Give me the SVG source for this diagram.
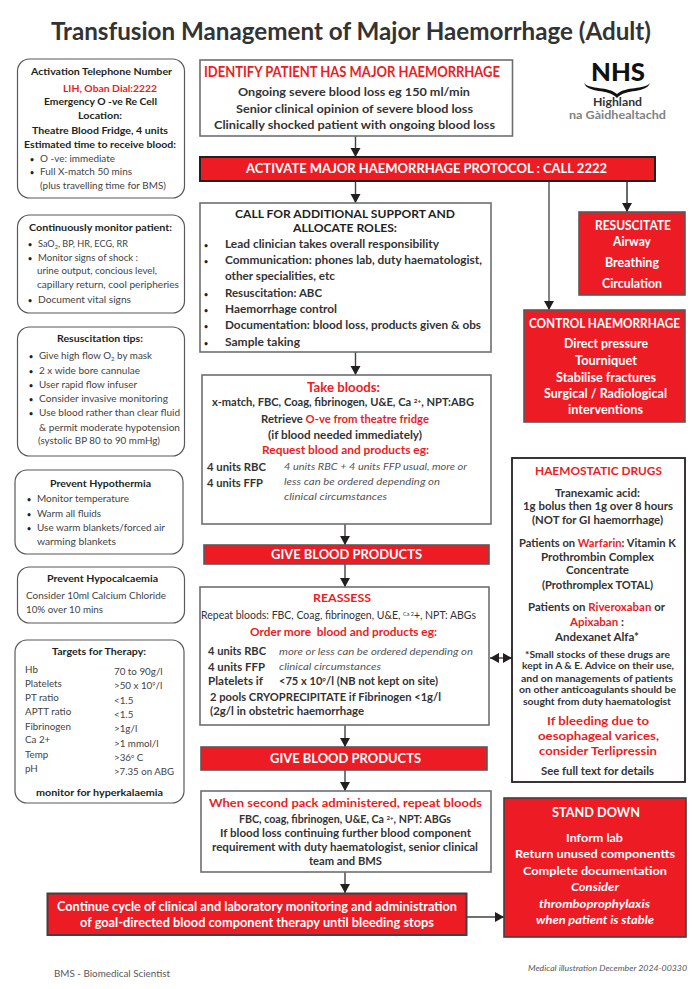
<svg xmlns="http://www.w3.org/2000/svg" width="698" height="989" viewBox="0 0 698 989">
<style>
text{font-family:Lato,"Open Sans","Liberation Sans",sans-serif;fill:#333}
.n{font-size:9.800px;font-weight:400;fill:#444}
.p{font-size:7px;font-weight:700;fill:#231f20}
.b{font-size:10px;font-weight:700;fill:#231f20}
.m{font-size:12.200px;font-weight:700;fill:#333}
.mb{font-size:12.200px;font-weight:700;fill:#231f20}
.i{font-size:10px;font-style:italic;fill:#555}
.w{font-size:11.500px;font-weight:700;fill:#fff}
.h{font-size:15px;font-weight:700}
.s{font-size:10.500px;font-weight:700;fill:#333}
.rr{fill:#fff;stroke:#58595b;stroke-width:1.2}
.bx{fill:#fff;stroke:#6d6e71;stroke-width:1.6}
.red{fill:#ed1c24;stroke:#58595b;stroke-width:1.6}
.redd{fill:#ed1c24;stroke:#231f20;stroke-width:2}
.c{fill:none;stroke:#414042;stroke-width:1.4}
</style>
<defs>
<marker id="a" markerUnits="userSpaceOnUse" markerWidth="11" markerHeight="11" refX="9" refY="5.5" orient="auto-start-reverse"><path d="M0 0.5L9 5.5L0 10.5Z" fill="#231f20"/></marker>
</defs>
<text x="51" y="40" textLength="600" lengthAdjust="spacingAndGlyphs" style="font-size:25px;font-weight:700;fill:#333">Transfusion Management of Major Haemorrhage (Adult)</text>

<g id="connectors">
<path class="c" d="M355.500 136V157" marker-end="url(#a)"/>
<path class="c" d="M355.500 181V203" marker-end="url(#a)"/>
<path class="c" d="M355.500 352V375" marker-end="url(#a)"/>
<path class="c" d="M345 524V545" marker-end="url(#a)"/>
<path class="c" d="M345 564V587" marker-end="url(#a)"/>
<path class="c" d="M345 725V747" marker-end="url(#a)"/>
<path class="c" d="M345 770V791" marker-end="url(#a)"/>
<path class="c" d="M345 872V893" marker-end="url(#a)"/>
<path d="M549 181V310" fill="none" stroke="#808285" stroke-width="2" marker-end="url(#a)"/>
<path d="M627 181V212" fill="none" stroke="#58595b" stroke-width="1.8" marker-end="url(#a)"/>
<path class="c" d="M490 658H512" marker-start="url(#a)" marker-end="url(#a)"/>
<path class="c" d="M467 917H504" marker-end="url(#a)"/>
</g>

<g id="activation">
<rect class="rr" x="17.500" y="59" width="167" height="139" rx="12"/>
<text class="b" x="31" y="75" textLength="141" lengthAdjust="spacingAndGlyphs">Activation Telephone Number</text>
<text class="b" x="63" y="91.700" textLength="94" lengthAdjust="spacingAndGlyphs" style="fill:#ed1c24">LIH, Oban Dial:2222</text>
<text class="b" x="44" y="105" textLength="113" lengthAdjust="spacingAndGlyphs">Emergency O -ve Re Cell</text>
<text class="b" x="78" y="119" textLength="44" lengthAdjust="spacingAndGlyphs">Location:</text>
<text class="b" x="32" y="134" textLength="136" lengthAdjust="spacingAndGlyphs">Theatre Blood Fridge, 4 units</text>
<text class="b" x="24" y="148" textLength="152" lengthAdjust="spacingAndGlyphs">Estimated time to receive blood:</text>
<text class="p" x="30" y="161.500">•</text><text class="n" x="40" y="162" textLength="75" lengthAdjust="spacingAndGlyphs">O -ve: immediate</text>
<text class="p" x="30" y="174.500">•</text><text class="n" x="40" y="175" textLength="92" lengthAdjust="spacingAndGlyphs">Full X-match 50 mins</text>
<text class="n" x="40" y="189" textLength="126" lengthAdjust="spacingAndGlyphs">(plus travelling time for BMS)</text>
</g>

<g id="monitor">
<rect class="rr" x="17.500" y="215" width="167" height="98" rx="12"/>
<text class="b" x="29" y="231" textLength="143" lengthAdjust="spacingAndGlyphs">Continuously monitor patient:</text>
<text class="p" x="28" y="246.500">•</text><text class="n" x="38" y="247" textLength="90" lengthAdjust="spacingAndGlyphs">SaO<tspan dy="1.500" font-size="6">2</tspan><tspan dy="-1.500">, BP, HR, ECG, RR</tspan></text>
<text class="p" x="28" y="260.500">•</text><text class="n" x="38" y="261" textLength="100" lengthAdjust="spacingAndGlyphs">Monitor signs of shock :</text>
<text class="n" x="37" y="274" textLength="120" lengthAdjust="spacingAndGlyphs">urine output, concious level,</text>
<text class="n" x="37" y="288" textLength="142" lengthAdjust="spacingAndGlyphs">capillary return, cool peripheries</text>
<text class="p" x="28" y="302.500">•</text><text class="n" x="38" y="303" textLength="93" lengthAdjust="spacingAndGlyphs">Document vital signs</text>
</g>

<g id="resus-tips">
<rect class="rr" x="17.500" y="327" width="167" height="129" rx="12"/>
<text class="b" x="57" y="342" textLength="86" lengthAdjust="spacingAndGlyphs">Resuscitation tips:</text>
<text class="p" x="29" y="358.500">•</text><text class="n" x="39" y="359" textLength="113" lengthAdjust="spacingAndGlyphs">Give high flow O<tspan dy="1.500" font-size="6">2</tspan><tspan dy="-1.500"> by mask</tspan></text>
<text class="p" x="29" y="373.500">•</text><text class="n" x="39" y="374" textLength="101" lengthAdjust="spacingAndGlyphs">2 x wide bore cannulae</text>
<text class="p" x="29" y="387.500">•</text><text class="n" x="39" y="388" textLength="98" lengthAdjust="spacingAndGlyphs">User rapid flow infuser</text>
<text class="p" x="29" y="401.500">•</text><text class="n" x="39" y="402" textLength="129" lengthAdjust="spacingAndGlyphs">Consider invasive monitoring</text>
<text class="p" x="29" y="415.500">•</text><text class="n" x="39" y="416" textLength="141" lengthAdjust="spacingAndGlyphs">Use blood rather than clear fluid</text>
<text class="n" x="39" y="431" textLength="141" lengthAdjust="spacingAndGlyphs">&amp; permit moderate hypotension</text>
<text class="n" x="38" y="444" textLength="122" lengthAdjust="spacingAndGlyphs">(systolic BP 80 to 90 mmHg)</text>
</g>

<g id="hypothermia">
<rect class="rr" x="15" y="470" width="168" height="84" rx="12"/>
<text class="b" x="50" y="487" textLength="101" lengthAdjust="spacingAndGlyphs">Prevent Hypothermia</text>
<text class="p" x="27" y="501.500">•</text><text class="n" x="37" y="502" textLength="92" lengthAdjust="spacingAndGlyphs">Monitor temperature</text>
<text class="p" x="27" y="516.500">•</text><text class="n" x="37" y="517" textLength="64" lengthAdjust="spacingAndGlyphs">Warm all fluids</text>
<text class="p" x="27" y="530.500">•</text><text class="n" x="37" y="531" textLength="128" lengthAdjust="spacingAndGlyphs">Use warm blankets/forced air</text>
<text class="n" x="37" y="545" textLength="79" lengthAdjust="spacingAndGlyphs">warming blankets</text>
</g>

<g id="hypocalcaemia">
<rect class="rr" x="17.500" y="567" width="167" height="56" rx="12"/>
<text class="b" x="47" y="582" textLength="111" lengthAdjust="spacingAndGlyphs">Prevent Hypocalcaemia</text>
<text class="n" x="26" y="599" textLength="140" lengthAdjust="spacingAndGlyphs">Consider 10ml Calcium Chloride</text>
<text class="n" x="26" y="613" textLength="77" lengthAdjust="spacingAndGlyphs">10% over 10 mins</text>
</g>

<g id="targets">
<rect class="rr" x="15" y="640" width="169" height="163" rx="12"/>
<text class="b" x="52" y="655" textLength="94" lengthAdjust="spacingAndGlyphs">Targets for Therapy:</text>
<text class="n" x="25" y="673">Hb</text><text class="n" x="25" y="687">Platelets</text><text class="n" x="25" y="701">PT ratio</text><text class="n" x="25" y="715">APTT ratio</text><text class="n" x="25" y="730">Fibrinogen</text><text class="n" x="25" y="743">Ca 2+</text><text class="n" x="25" y="758">Temp</text><text class="n" x="25" y="772">pH</text>
<text class="n" x="114" y="675">70 to 90g/l</text>
<text class="n" x="114" y="689">&gt;50 x 10<tspan dy="-3" font-size="5.500">9</tspan><tspan dy="3">/l</tspan></text>
<text class="n" x="114" y="704">&lt;1.5</text><text class="n" x="114" y="718">&lt;1.5</text><text class="n" x="114" y="732">&gt;1g/l</text><text class="n" x="114" y="747">&gt;1 mmol/l</text>
<text class="n" x="114" y="761">&gt;36<tspan dy="-3" font-size="5.500">o</tspan><tspan dy="3"> C</tspan></text>
<text class="n" x="114" y="775" textLength="60" lengthAdjust="spacingAndGlyphs">&gt;7.35 on ABG</text>
<text class="b" x="36" y="796" textLength="127" lengthAdjust="spacingAndGlyphs">monitor for hyperkalaemia</text>
</g>

<g id="identify">
<rect class="bx" x="200" y="60" width="312.500" height="76"/>
<text class="h" x="204" y="77" textLength="296" lengthAdjust="spacingAndGlyphs" style="fill:#ed1c24">IDENTIFY PATIENT HAS MAJOR HAEMORRHAGE</text>
<text class="m" x="238" y="96" textLength="232" lengthAdjust="spacingAndGlyphs">Ongoing severe blood loss eg 150 ml/min</text>
<text class="m" x="236" y="113" textLength="237" lengthAdjust="spacingAndGlyphs">Senior clinical opinion of severe blood loss</text>
<text class="m" x="214" y="129" textLength="281" lengthAdjust="spacingAndGlyphs">Clinically shocked patient with ongoing blood loss</text>
</g>

<g id="activate">
<rect class="redd" x="200" y="157" width="455" height="24"/>
<text class="w" x="246" y="173" textLength="361" lengthAdjust="spacingAndGlyphs" style="font-size:14px">ACTIVATE MAJOR HAEMORRHAGE PROTOCOL : CALL 2222</text>
</g>

<g id="roles">
<rect class="bx" x="200" y="203" width="291" height="149"/>
<text class="mb" x="235" y="218" textLength="220" lengthAdjust="spacingAndGlyphs">CALL FOR ADDITIONAL SUPPORT AND</text>
<text class="mb" x="293" y="232" textLength="104" lengthAdjust="spacingAndGlyphs">ALLOCATE ROLES:</text>
<g><text class="p" x="204" y="247.500">•</text><text class="p" x="204" y="263.500">•</text><text class="p" x="204" y="296.500">•</text><text class="p" x="204" y="312.500">•</text><text class="p" x="204" y="328.500">•</text><text class="p" x="204" y="345.500">•</text></g>
<text class="s" x="225" y="248" textLength="214" lengthAdjust="spacingAndGlyphs">Lead clinician takes overall responsibility</text>
<text class="s" x="225" y="264" textLength="257" lengthAdjust="spacingAndGlyphs">Communication: phones lab, duty haematologist,</text>
<text class="s" x="225" y="280" textLength="110" lengthAdjust="spacingAndGlyphs">other specialities, etc</text>
<text class="s" x="225" y="297" textLength="97" lengthAdjust="spacingAndGlyphs">Resuscitation: ABC</text>
<text class="s" x="225" y="313" textLength="112" lengthAdjust="spacingAndGlyphs">Haemorrhage control</text>
<text class="s" x="225" y="329" textLength="256" lengthAdjust="spacingAndGlyphs">Documentation: blood loss, products given &amp; obs</text>
<text class="s" x="225" y="346" textLength="75" lengthAdjust="spacingAndGlyphs">Sample taking</text>
</g>

<g id="take-bloods">
<rect class="bx" x="202" y="375" width="289" height="149"/>
<text class="mb" x="307" y="392" textLength="73" lengthAdjust="spacingAndGlyphs" style="fill:#ed1c24;font-size:13px">Take bloods:</text>
<text class="s" x="212" y="406" textLength="262" lengthAdjust="spacingAndGlyphs">x-match, FBC, Coag, fibrinogen, U&amp;E, Ca <tspan dy="-3" font-size="6">2+</tspan><tspan dy="3">, NPT:ABG</tspan></text>
<text class="s" x="261" y="423" textLength="168" lengthAdjust="spacingAndGlyphs">Retrieve <tspan style="fill:#ed1c24">O-ve from theatre fridge</tspan></text>
<text class="s" x="268" y="439" textLength="154" lengthAdjust="spacingAndGlyphs">(if blood needed immediately)</text>
<text class="s" x="262" y="454" textLength="167" lengthAdjust="spacingAndGlyphs" style="fill:#ed1c24">Request blood and products eg:</text>
<text class="s" x="207" y="471" textLength="59" lengthAdjust="spacingAndGlyphs">4 units RBC</text>
<text class="s" x="207" y="487" textLength="56" lengthAdjust="spacingAndGlyphs">4 units FFP</text>
<text class="i" x="284" y="470" textLength="183" lengthAdjust="spacingAndGlyphs">4 units RBC + 4 units FFP usual, more or</text>
<text class="i" x="284" y="485" textLength="156" lengthAdjust="spacingAndGlyphs">less can be ordered depending on</text>
<text class="i" x="284" y="500" textLength="103" lengthAdjust="spacingAndGlyphs">clinical circumstances</text>
</g>

<g id="give-1">
<rect class="red" x="204" y="545" width="285" height="19"/>
<text class="w" x="271" y="559" textLength="151" lengthAdjust="spacingAndGlyphs" style="font-size:13.500px">GIVE BLOOD PRODUCTS</text>
</g>

<g id="reassess">
<rect class="bx" x="200" y="587" width="289" height="138"/>
<text class="mb" x="313" y="602" textLength="58" lengthAdjust="spacingAndGlyphs" style="fill:#ed1c24">REASSESS</text>
<text class="s" style="font-weight:400" x="201" y="619" textLength="275" lengthAdjust="spacingAndGlyphs">Repeat bloods: FBC, Coag, fibrinogen, U&amp;E, <tspan dy="-3" font-size="5.500">Ca 2</tspan><tspan dy="3">+, NPT: ABGs</tspan></text>
<text class="s" x="250" y="636" textLength="187" lengthAdjust="spacingAndGlyphs" xml:space="preserve" style="fill:#ed1c24">Order more  blood and products eg:</text>
<text class="s" x="208" y="655" textLength="58" lengthAdjust="spacingAndGlyphs">4 units RBC</text>
<text class="i" x="279" y="655" textLength="194" lengthAdjust="spacingAndGlyphs">more or less can be ordered depending on</text>
<text class="s" x="208" y="671" textLength="57" lengthAdjust="spacingAndGlyphs">4 units FFP</text>
<text class="i" x="279" y="670" textLength="102" lengthAdjust="spacingAndGlyphs">clinical circumstances</text>
<text class="s" x="208" y="685" textLength="55" lengthAdjust="spacingAndGlyphs">Platelets if</text>
<text class="s" x="279" y="685" textLength="159" lengthAdjust="spacingAndGlyphs">&lt;75 x 10<tspan dy="-3" font-size="6">9</tspan><tspan dy="3">/l (NB not kept on site)</tspan></text>
<text class="s" x="210" y="701" textLength="231" lengthAdjust="spacingAndGlyphs">2 pools CRYOPRECIPITATE if Fibrinogen &lt;1g/l</text>
<text class="s" x="210" y="715" textLength="154" lengthAdjust="spacingAndGlyphs">(2g/l in obstetric haemorrhage</text>
</g>

<g id="give-2">
<rect class="red" x="201" y="747" width="286" height="23"/>
<text class="w" x="270" y="763" textLength="151" lengthAdjust="spacingAndGlyphs" style="font-size:13.500px">GIVE BLOOD PRODUCTS</text>
</g>

<g id="second-pack">
<rect class="bx" x="201" y="791" width="290" height="81"/>
<text class="mb" x="209" y="807" textLength="273" lengthAdjust="spacingAndGlyphs" style="fill:#ed1c24">When second pack administered, repeat bloods</text>
<text class="s" x="239" y="823" textLength="212" lengthAdjust="spacingAndGlyphs">FBC, coag, fibrinogen, U&amp;E, Ca <tspan dy="-3" font-size="6">2+</tspan><tspan dy="3">, NPT: ABGs</tspan></text>
<text class="s" x="220" y="837" textLength="251" lengthAdjust="spacingAndGlyphs">If blood loss continuing further blood component</text>
<text class="s" x="212" y="851" textLength="266" lengthAdjust="spacingAndGlyphs">requirement with duty haematologist, senior clinical</text>
<text class="s" x="309" y="865" textLength="73" lengthAdjust="spacingAndGlyphs">team and BMS</text>
</g>

<g id="continue">
<rect class="redd" x="47.500" y="893.500" width="419" height="41.500" style="stroke:#414042"/>
<text class="w" x="57" y="911" textLength="400" lengthAdjust="spacingAndGlyphs" style="font-size:12.500px">Continue cycle of clinical and laboratory monitoring and administration</text>
<text class="w" x="80" y="926.500" textLength="354" lengthAdjust="spacingAndGlyphs" style="font-size:12.500px">of goal-directed blood component therapy until bleeding stops</text>
</g>

<g id="resuscitate">
<rect class="red" x="579" y="212" width="106" height="83"/>
<text class="w" x="595" y="230" textLength="76" lengthAdjust="spacingAndGlyphs" style="font-size:12.500px">RESUSCITATE</text>
<text class="w" x="613" y="246" textLength="38" lengthAdjust="spacingAndGlyphs" style="font-size:12.500px">Airway</text>
<text class="w" x="605" y="267" textLength="54" lengthAdjust="spacingAndGlyphs" style="font-size:12.500px">Breathing</text>
<text class="w" x="602" y="288" textLength="60" lengthAdjust="spacingAndGlyphs" style="font-size:12.500px">Circulation</text>
</g>

<g id="control">
<rect class="red" x="524" y="310" width="161" height="112"/>
<text class="w" x="529" y="328" textLength="151" lengthAdjust="spacingAndGlyphs" style="font-size:12.500px">CONTROL HAEMORRHAGE</text>
<text class="w" x="564" y="348" textLength="84" lengthAdjust="spacingAndGlyphs" style="font-size:12.500px">Direct pressure</text>
<text class="w" x="575" y="365" textLength="62" lengthAdjust="spacingAndGlyphs" style="font-size:12.500px">Tourniquet</text>
<text class="w" x="556" y="382" textLength="100" lengthAdjust="spacingAndGlyphs" style="font-size:12.500px">Stabilise fractures</text>
<text class="w" x="544" y="398" textLength="123" lengthAdjust="spacingAndGlyphs" style="font-size:12.500px">Surgical / Radiological</text>
<text class="w" x="568" y="414" textLength="75" lengthAdjust="spacingAndGlyphs" style="font-size:12.500px">interventions</text>
</g>

<g id="haemostatic">
<rect x="512" y="458" width="173" height="324" style="fill:#fff;stroke:#231f20;stroke-width:1.800"/>
<text class="mb" x="535" y="475" textLength="127" lengthAdjust="spacingAndGlyphs" style="fill:#ed1c24">HAEMOSTATIC DRUGS</text>
<text class="s" x="555" y="497" textLength="85" lengthAdjust="spacingAndGlyphs">Tranexamic acid:</text>
<text class="s" x="523" y="510" textLength="150" lengthAdjust="spacingAndGlyphs">1g bolus then 1g over 8 hours</text>
<text class="s" x="532" y="524" textLength="131" lengthAdjust="spacingAndGlyphs">(NOT for GI haemorrhage)</text>
<text class="s" x="519" y="547" textLength="157" lengthAdjust="spacingAndGlyphs">Patients on <tspan style="fill:#ed1c24">Warfarin</tspan>: Vitamin K</text>
<text class="s" x="541" y="561" textLength="113" lengthAdjust="spacingAndGlyphs">Prothrombin Complex</text>
<text class="s" x="566" y="574" textLength="63" lengthAdjust="spacingAndGlyphs">Concentrate</text>
<text class="s" x="542" y="589" textLength="111" lengthAdjust="spacingAndGlyphs">(Prothromplex TOTAL)</text>
<text class="s" x="528" y="611" textLength="137" lengthAdjust="spacingAndGlyphs">Patients on <tspan style="fill:#ed1c24">Riveroxaban</tspan> or</text>
<text class="s" x="570" y="626" textLength="54" lengthAdjust="spacingAndGlyphs"><tspan style="fill:#ed1c24">Apixaban</tspan> :</text>
<text class="s" x="555" y="641" textLength="84" lengthAdjust="spacingAndGlyphs">Andexanet Alfa*</text>
<text class="s" style="font-size:9px" x="525" y="658" textLength="145" lengthAdjust="spacingAndGlyphs">*Small stocks of these drugs are</text>
<text class="s" style="font-size:9px" x="522" y="669" textLength="152" lengthAdjust="spacingAndGlyphs">kept in A &amp; E. Advice on their use,</text>
<text class="s" style="font-size:9px" x="521" y="682" textLength="152" lengthAdjust="spacingAndGlyphs">and on managements of patients</text>
<text class="s" style="font-size:9px" x="519" y="693" textLength="157" lengthAdjust="spacingAndGlyphs">on other anticoagulants should be</text>
<text class="s" style="font-size:9px" x="523" y="705" textLength="148" lengthAdjust="spacingAndGlyphs">sought from duty haematologist</text>
<text class="mb" x="547" y="725" textLength="102" lengthAdjust="spacingAndGlyphs" style="fill:#ed1c24">If bleeding due to</text>
<text class="mb" x="538" y="740" textLength="121" lengthAdjust="spacingAndGlyphs" style="fill:#ed1c24">oesophageal varices,</text>
<text class="mb" x="539" y="755" textLength="118" lengthAdjust="spacingAndGlyphs" style="fill:#ed1c24">consider Terlipressin</text>
<text class="s" x="541" y="775" textLength="113" lengthAdjust="spacingAndGlyphs">See full text for details</text>
</g>

<g id="stand-down">
<rect class="red" x="504" y="798" width="182" height="139" style="stroke:#414042"/>
<text class="w" x="552" y="817" textLength="88" lengthAdjust="spacingAndGlyphs" style="font-size:13.500px">STAND DOWN</text>
<text class="w" x="566" y="842" textLength="57" lengthAdjust="spacingAndGlyphs" style="font-size:12px">Inform lab</text>
<text class="w" x="515" y="858" textLength="160" lengthAdjust="spacingAndGlyphs" style="font-size:12px">Return unused componentts</text>
<text class="w" x="523" y="875" textLength="144" lengthAdjust="spacingAndGlyphs" style="font-size:12px">Complete documentation</text>
<text class="w" font-style="italic" x="571" y="891" textLength="48" lengthAdjust="spacingAndGlyphs" style="font-size:12px">Consider</text>
<text class="w" font-style="italic" x="539" y="908" textLength="111" lengthAdjust="spacingAndGlyphs" style="font-size:12px">thromboprophylaxis</text>
<text class="w" font-style="italic" x="536" y="924" textLength="118" lengthAdjust="spacingAndGlyphs" style="font-size:12px">when patient is stable</text>
</g>

<g id="logo">
<text x="591" y="81" textLength="54" lengthAdjust="spacingAndGlyphs" style="font-size:24px;font-weight:900;fill:#111">NHS</text>
<path d="M584 83C590 90 608 86 617 94C626 86 644 90 650 83C646 94 626 88 617 98C608 88 588 94 584 83Z" fill="#111"/>
<text x="593" y="106" textLength="49" lengthAdjust="spacingAndGlyphs" style="font-size:10.500px;font-weight:700;fill:#333">Highland</text>
<text x="569" y="119" textLength="97" lengthAdjust="spacingAndGlyphs" style="font-size:10.500px;font-weight:700;fill:#808285">na Gàidhealtachd</text>
</g>

<text x="54" y="977" textLength="116" lengthAdjust="spacingAndGlyphs" style="font-size:9.500px;fill:#58595b">BMS - Biomedical Scientist</text>
<text x="528" y="971" textLength="159" lengthAdjust="spacingAndGlyphs" style="font-size:8.500px;font-style:italic;fill:#58595b">Medical illustration December 2024-00330</text>
</svg>
